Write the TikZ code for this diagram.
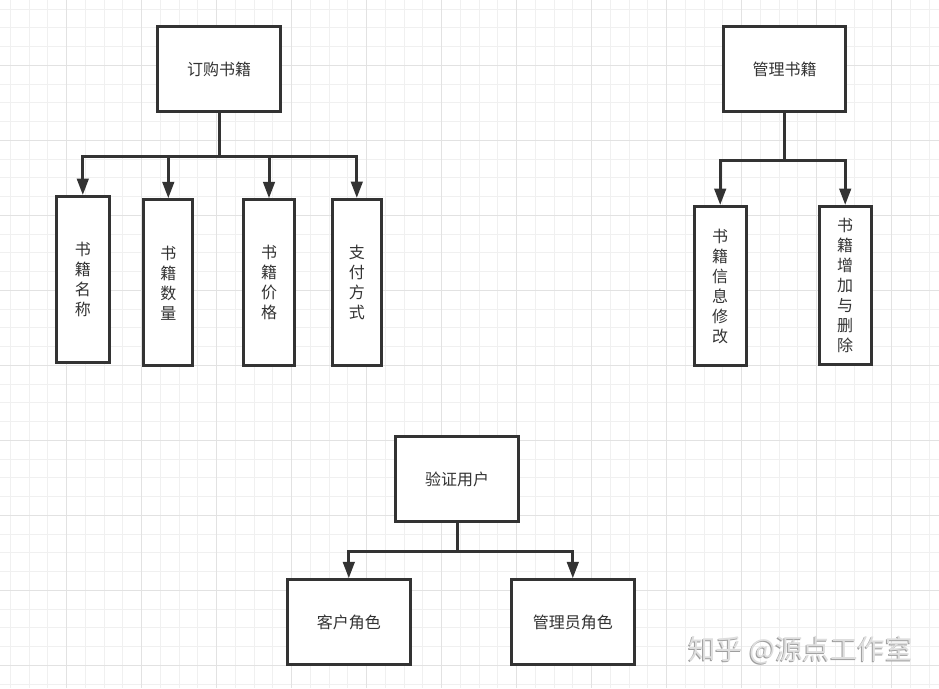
\documentclass[tikz,border=0pt]{standalone}
\usepackage{fontspec}
\newfontfamily\cjk{Noto Sans CJK SC}
\usetikzlibrary{arrows.meta}
\definecolor{ink}{HTML}{333333}
\definecolor{gminor}{HTML}{F0F0F0}
\definecolor{gmajor}{HTML}{E2E2E2}
\tikzset{
  minorgrid/.style={draw=gminor,line width=1pt},
  majorgrid/.style={draw=gmajor,line width=1pt},
  box/.style={draw=ink,line width=3pt,fill=white,inner sep=0pt,text=ink,align=center,
    font=\cjk\fontsize{16}{20}\selectfont},
  conn/.style={draw=ink,line width=3pt},
  arr/.style={conn,-{Triangle[length=16.5pt,width=11.5pt]}},
  wm/.style={font=\cjk\fontsize{27.5}{30}\selectfont,inner sep=0pt}
}
\begin{document}
\begin{tikzpicture}[x=1pt,y=-1pt]
\useasboundingbox (0,0) rectangle (939,688);
\fill[white] (0,0) rectangle (939,688);
% grid
\foreach \i in {0,...,49} \draw[minorgrid] ({10.4+18.75*\i},0) -- ++(0,688);
\foreach \i in {0,...,36} \draw[minorgrid] (0,{9.1+18.75*\i}) -- ++(939,0);
\foreach \i in {0,...,11} \draw[majorgrid] ({66.65+75*\i},0) -- ++(0,688);
\foreach \i in {0,...,8} \draw[majorgrid] (0,{65.35+75*\i}) -- ++(939,0);

% tree A
\node[box,minimum width=123pt,minimum height=85pt] (A) at (219,69) {订购书籍};
\node[box,minimum width=52.7pt,minimum height=166.3pt] (A1) at (82.8,279.7) {书\\籍\\名\\称};
\node[box,minimum width=49pt,minimum height=166pt] (A2) at (168.3,282.8) {书\\籍\\数\\量};
\node[box,minimum width=50.4pt,minimum height=166pt] (A3) at (269,282.8) {书\\籍\\价\\格};
\node[box,minimum width=48.7pt,minimum height=166pt] (A4) at (356.8,282.5) {支\\付\\方\\式};
\coordinate (Abus) at (219,156);
\draw[conn] (A.south) -- (Abus);
\foreach \c in {A1,A2,A3,A4} \draw[arr] (Abus) -| (\c.north);

% tree B
\node[box,minimum width=121.4pt,minimum height=84.7pt] (B) at (784.5,68.9) {管理书籍};
\node[box,minimum width=52pt,minimum height=159.3pt] (B1) at (720.2,286.2) {书\\籍\\信\\息\\修\\改};
\node[box,minimum width=52pt,minimum height=158pt] (B2) at (845.2,285.5) {书\\籍\\增\\加\\与\\删\\除};
\coordinate (Bbus) at (784.5,160.7);
\draw[conn] (B.south) -- (Bbus);
\foreach \c in {B1,B2} \draw[arr] (Bbus) -| (\c.north);

% tree C
\node[box,minimum width=123pt,minimum height=85.3pt] (C) at (457,479.2) {验证用户};
\node[box,minimum width=122.7pt,minimum height=84.4pt] (C1) at (348.8,622) {客户角色};
\node[box,minimum width=122.7pt,minimum height=84.4pt] (C2) at (572.8,622) {管理员角色};
\coordinate (Cbus) at (457,551);
\draw[conn] (C.south) -- (Cbus);
\foreach \c in {C1,C2} \draw[arr] (Cbus) -| (\c.north);

% watermark
\node[wm,text=black!38] (wms) at (799.6,650.9) {知乎 @源点工作室};
\node[wm,text=black!13] (wm) at (800.5,650) {知乎 @源点工作室};
\end{tikzpicture}
\end{document}
